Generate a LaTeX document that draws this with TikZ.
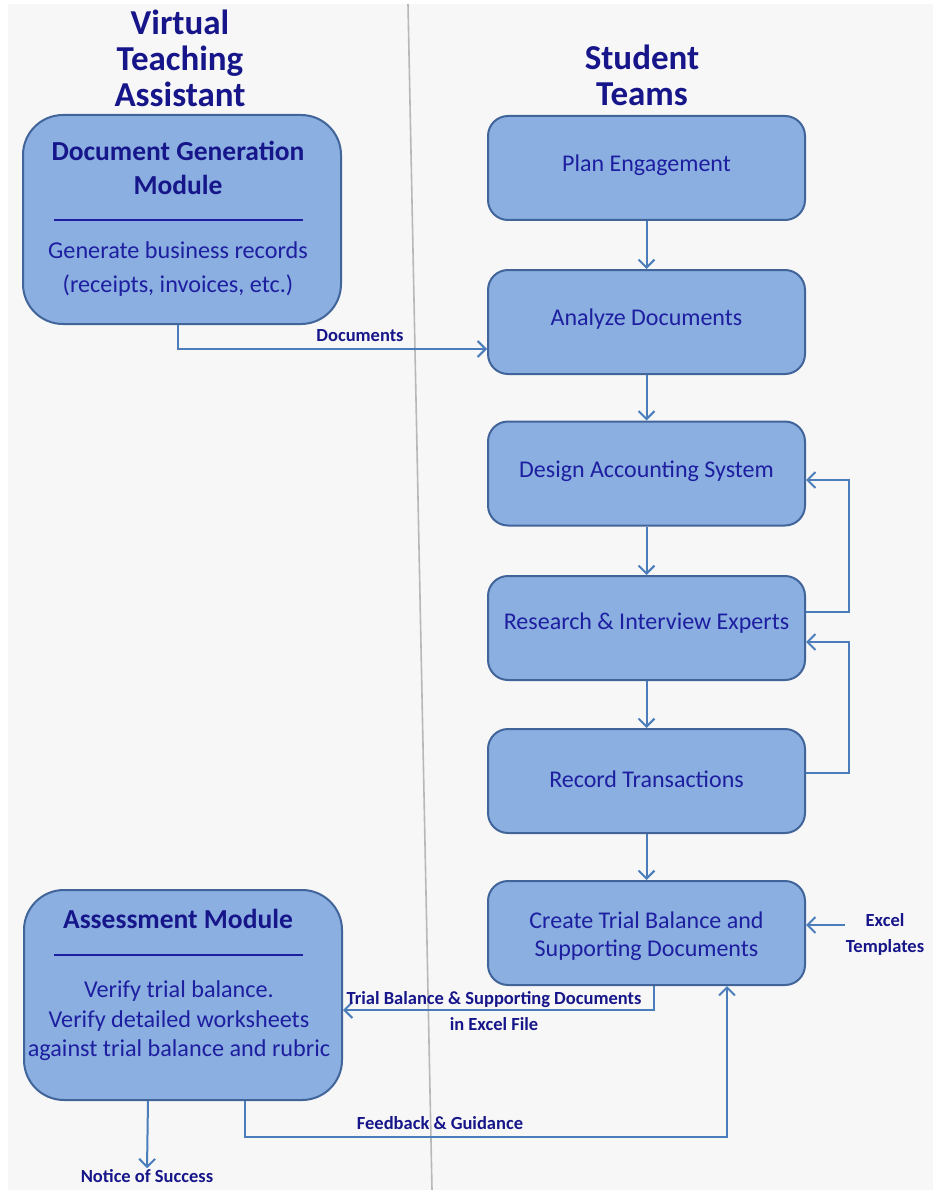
\documentclass[tikz,border=0pt]{standalone}
\usepackage{fontspec}
\setmainfont{Carlito}
\usetikzlibrary{arrows.meta,positioning}
\definecolor{bg}{HTML}{F7F7F7}
\definecolor{boxfill}{HTML}{8AAFE0}
\definecolor{boxline}{HTML}{41659A}
\definecolor{arrcol}{HTML}{4A7DBA}
\definecolor{navy}{HTML}{16168A}
\definecolor{bodytxt}{HTML}{1E1EA0}
\tikzset{
  stepbox/.style={draw=boxline, line width=2pt, fill=boxfill, rounded corners=20pt,
    minimum width=317pt, minimum height=104pt, text=bodytxt, align=center,
    font=\fontsize{24}{28}\selectfont, inner sep=0pt},
  modbox/.style={draw=boxline, line width=2pt, fill=boxfill, rounded corners=40pt,
    minimum width=318pt, minimum height=209pt, inner sep=0pt},
  arr/.style={draw=arrcol, line width=2pt, -{Straight Barb[length=8pt,width=16pt,line width=2pt]}},
  head/.style={text=navy, font=\bfseries\fontsize{35}{36}\selectfont, align=center},
  modtitle/.style={text=navy, font=\bfseries\fontsize{27.5}{34}\selectfont, align=center},
  modbody/.style={text=bodytxt, font=\fontsize{24.2}{34}\selectfont, align=center},
  lbl/.style={text=navy, font=\bfseries\fontsize{18.5}{26}\selectfont, align=center, inner sep=1pt},
  sep/.style={draw=bodytxt, line width=1.2pt}
}
\begin{document}
\begin{tikzpicture}[x=1pt,y=-1pt]
\useasboundingbox (0,0) rectangle (933,1190);
\fill[white] (0,0) rectangle (933,1190);
\fill[bg] (8,4) rectangle (933,1190);
\draw[black!28, line width=1.6pt] (408,4) -- (432,1190);

% headers
\node[head] (vta) at (180,58) {Virtual\\Teaching\\Assistant};
\node[head] (st) at (642,75) {Student\\Teams};

% left modules
\node[modbox] (docgen) at (182,219.5) {};
\node[modtitle] (dgt) at (178,168) {Document Generation\\Module};
\draw[sep] (54,220) -- (303,220);
\node[modbody] (dgb) at (178,269) {Generate business records\\(receipts, invoices, etc.)};

\node[modbox, minimum height=210pt] (assess) at (183,995) {};
\node[modtitle] (ast) at (178,919) {Assessment Module};
\draw[sep] (54,955) -- (303,955);
\node[modbody, font=\fontsize{24.2}{29.5}\selectfont] (asb) at (179,1021) {Verify trial balance.\\Verify detailed worksheets\\against trial balance and rubric};

% student steps
\node[stepbox] (plan) at (646.5,168) {\raisebox{10pt}{Plan Engagement}};
\node[stepbox] (analyze) at (646.5,322) {\raisebox{10pt}{Analyze Documents}};
\node[stepbox] (design) at (646.5,473.5) {\raisebox{9pt}{Design Accounting System}};
\node[stepbox] (research) at (646.5,628) {\raisebox{13pt}{Research \& Interview Experts}};
\node[stepbox] (record) at (646.5,781) {\raisebox{3pt}{Record Transactions}};
\node[stepbox] (create) at (646.5,933) {\raisebox{-10pt}[0pt][0pt]{\begin{tabular}{@{}c@{}}Create Trial\ Balance and\\Supporting Documents\end{tabular}}};

% vertical flow
\draw[arr] (plan) -- (analyze);
\draw[arr] (analyze) -- (design);
\draw[arr] (design) -- (research);
\draw[arr] (research) -- (record);
\draw[arr] (record) -- (create);

% loops
\draw[arr] ([yshift=16pt]research.east) -- ++(43,0) |- ([yshift=-6.5pt]design.east);
\draw[arr] ([yshift=8pt]record.east) -- ++(43,0) |- ([yshift=-14pt]research.east);

% documents
\draw[arr] ([xshift=-4pt]docgen.south) |- ([yshift=-27pt]analyze.west);
\node[lbl] (doclbl) at (360,336) {Documents};

% excel templates
\node[lbl] (excel) at (885,934) {Excel\\Templates};
\coordinate (exstart) at (845,925);
\draw[arr] (exstart) -- ([yshift=8pt]create.east);

% trial balance to assessment
\draw[arr] ([xshift=7.5pt]create.south) |- ([yshift=-15pt]assess.east);
\node[lbl] (tblbl) at (494,1011) {Trial Balance \& Supporting Documents\\in Excel File};

% feedback
\draw[arr] ([xshift=62pt]assess.south) -- ++(0,36) -| ([xshift=80.5pt]create.south);
\node[lbl] (fblbl) at (440,1123) {Feedback \& Guidance};

% notice
\node[lbl] (notice) at (147,1176) {Notice of Success};
\draw[arr] ([xshift=-35pt]assess.south) -- (notice.north);
\end{tikzpicture}
\end{document}
